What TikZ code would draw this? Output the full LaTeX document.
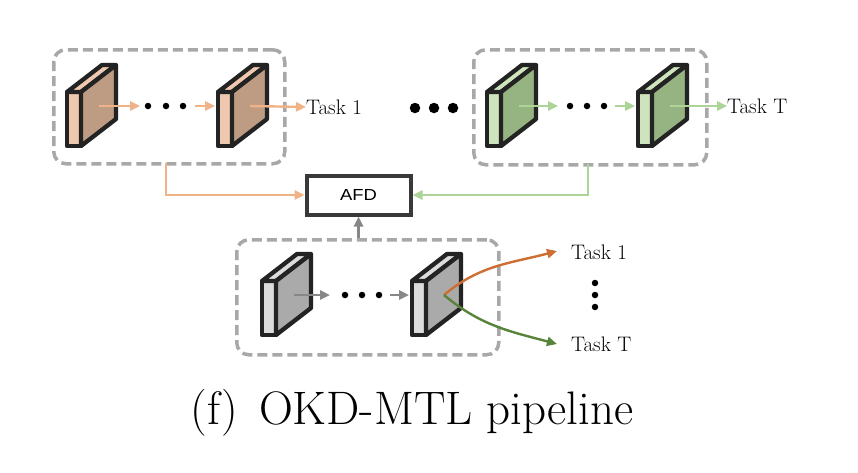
\documentclass[tikz,border=0pt]{standalone}
\usepackage{fontspec}
\newfontfamily\afdfont{Liberation Sans}
\usetikzlibrary{arrows.meta}
\definecolor{peach}{RGB}{240,178,135}
\definecolor{peachL}{RGB}{238,200,175}
\definecolor{brownD}{RGB}{190,156,132}
\definecolor{greenA}{RGB}{172,212,150}
\definecolor{greenL}{RGB}{205,228,188}
\definecolor{greenD}{RGB}{150,180,130}
\definecolor{grayL}{RGB}{220,220,220}
\definecolor{grayD}{RGB}{170,170,170}
\definecolor{grayA}{RGB}{135,135,135}
\definecolor{dashgray}{RGB}{168,168,168}
\definecolor{orangeD}{RGB}{205,110,50}
\definecolor{greenDk}{RGB}{88,132,58}
\definecolor{edge}{RGB}{35,35,35}
\tikzset{
  groupbox/.style={draw=dashgray, line width=3.5pt, dash pattern=on 10pt off 5pt, rounded corners=12pt},
  flow/.style={line width=2.4pt, -{Triangle[length=10pt,width=9pt]}},
  slabface/.style={draw=edge, line width=4.3pt, line join=round},
  dotS/.style={circle, fill=black, inner sep=0pt, minimum size=6.5pt},
  dotB/.style={circle, fill=black, inner sep=0pt, minimum size=10.5pt},
  tasklbl/.style={font=\fontsize{21}{23}\selectfont, anchor=west, inner sep=0pt},
  afdbox/.style={draw=edge!90, line width=4pt, minimum width=104pt, minimum height=39pt, inner sep=0pt},
}
% slab: name, x, y (front face top-left, on the line), light, dark
\newcommand{\slab}[5]{%
  \fill[#4] (#2,#3) rectangle ++(14,54);
  \filldraw[slabface, fill=#4] (#2,#3) -- ++(14,0) -- ++(35,-27) -- ++(-14,0) -- cycle;
  \filldraw[slabface, fill=#5] (#2+14,#3) -- ++(35,-27) -- ++(0,54) -- ++(-35,27) -- cycle;
  \draw[slabface] (#2,#3) rectangle ++(14,54);
  \draw[slabface] (#2+14,#3) -- ++(0,54);
  \coordinate (#1) at (#2+32,#3+14);
  \coordinate (#1-f) at (#2-3,#3+14);
}
\begin{document}
\begin{tikzpicture}[x=1pt,y=-1pt]
\useasboundingbox[fill=white] (0,0) rectangle (858,472);

% dashed group boxes
\node[groupbox, minimum width=231pt, minimum height=114pt, anchor=north west] (gA) at (52,48) {};
\node[groupbox, minimum width=233pt, minimum height=115pt, anchor=north west] (gT) at (472,48) {};
\node[groupbox, minimum width=262pt, minimum height=115pt, anchor=north west] (gS) at (235,238) {};

% slabs
\slab{b1}{67}{92}{peachL}{brownD}
\slab{b2}{218}{92}{peachL}{brownD}
\slab{g1}{487}{92}{greenL}{greenD}
\slab{g2}{638}{92}{greenL}{greenD}
\slab{s1}{262}{281}{grayL}{grayD}
\slab{s2}{412}{281}{grayL}{grayD}

% top-left chain
\coordinate (a1e) at (140,106);
\node[dotS] (d1) at (148,106) {};
\node[dotS] (d2) at (166,106) {};
\node[dotS] (d3) at (183,106) {};
\coordinate (a2s) at (195,106);
\node[tasklbl] (t1) at (306,107) {Task 1};
\draw[flow, peach] (b1) -- (a1e);
\draw[flow, peach] (a2s) -- (b2-f);
\draw[flow, peach] (b2) -- (t1.west);

% big dots
\node[dotB] (e1) at (415,108) {};
\node[dotB] (e2) at (434,108) {};
\node[dotB] (e3) at (453,108) {};

% top-right chain
\coordinate (a3e) at (558,106);
\node[dotS] (d4) at (570,106) {};
\node[dotS] (d5) at (587,106) {};
\node[dotS] (d6) at (604,106) {};
\coordinate (a4s) at (615,106);
\node[tasklbl] (tT) at (727,106) {Task T};
\draw[flow, greenA] (g1) -- (a3e);
\draw[flow, greenA] (a4s) -- (g2-f);
\draw[flow, greenA] (g2) -- (tT.west);

% AFD
\node[afdbox] (afd) at (358.5,195) {\afdfont\fontsize{16}{18}\selectfont\scalebox{1.15}[1]{AFD}};
\coordinate (ca) at (166,163);
\coordinate (cg) at (588,164);
\draw[flow, peach] (ca) |- (afd.west);
\draw[flow, greenA] (cg) |- (afd.east);
\draw[flow, grayA] (gS.north -| afd.south) -- (afd.south);

% bottom chain
\coordinate (a5e) at (330,295);
\node[dotS] (d7) at (345,295) {};
\node[dotS] (d8) at (362,295) {};
\node[dotS] (d9) at (379,295) {};
\coordinate (a6s) at (390,295);
\draw[flow, grayA] (s1) -- (a5e);
\draw[flow, grayA] (a6s) -- (s2-f);

\node[tasklbl] (u1) at (571,252) {Task 1};
\node[tasklbl] (uT) at (571,344) {Task T};
\node[dotS] (v1) at (595,283) {};
\node[dotS] (v2) at (595,295) {};
\node[dotS] (v3) at (595,307) {};
\coordinate (o1) at (557,251);
\coordinate (o2) at (557,344);
\draw[flow, orangeD] (s2) to[out=40, in=195] (o1);
\draw[flow, greenDk] (s2) to[out=-40, in=165] (o2);

% caption
\node[font=\fontsize{47}{50}\selectfont, inner sep=0pt] (cap) at (412,413) {(f)\hspace{0.45em}OKD-MTL pipeline};
\end{tikzpicture}
\end{document}
